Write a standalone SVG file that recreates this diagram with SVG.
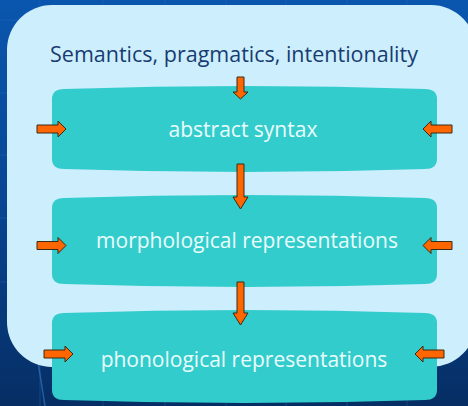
<svg xmlns="http://www.w3.org/2000/svg" width="468" height="406" viewBox="0 0 468 406">
  <defs>
    <linearGradient id="bg" x1="0" y1="0" x2="0" y2="1">
      <stop offset="0" stop-color="#0a56ae"/>
      <stop offset="0.5" stop-color="#084592"/>
      <stop offset="1" stop-color="#062e64"/>
    </linearGradient>
    <path id="arrR" d="M-29,-4 L-8,-4 L-8,-8 L0,0 L-8,8 L-8,4 L-29,4 Z"/>
    <path id="arrL" d="M29,-4 L8,-4 L8,-8 L0,0 L8,8 L8,4 L29,4 Z"/>
  </defs>
  <style>
    .grid { stroke: #2a70c4; stroke-width: 1; opacity: 0.35; }
    .panel { fill: #cdeefd; }
    .box { fill: #33cccc; }
    .title { font-family: "Open Sans", "Liberation Sans", sans-serif; font-size: 21.5px; fill: #173c70; text-anchor: middle; }
    .label { font-family: "Open Sans", "Liberation Sans", sans-serif; font-size: 21px; fill: #eafcfc; text-anchor: middle; }
    .arrow { fill: #ff6600; stroke: #3a2a1a; stroke-width: 1; stroke-linejoin: miter; }
  </style>

  <rect x="0" y="0" width="468" height="406" fill="url(#bg)"/>
  <g id="grid">
    <line class="grid" x1="40" y1="0" x2="40" y2="406"/>
    <line class="grid" x1="103" y1="0" x2="103" y2="406"/>
    <line class="grid" x1="165" y1="0" x2="165" y2="406"/>
    <line class="grid" x1="226" y1="0" x2="226" y2="406"/>
    <line class="grid" x1="286" y1="0" x2="286" y2="406"/>
    <line class="grid" x1="347" y1="0" x2="347" y2="406"/>
    <line class="grid" x1="407" y1="0" x2="407" y2="406"/>
    <line class="grid" x1="0" y1="20" x2="468" y2="20"/>
    <line class="grid" x1="0" y1="93" x2="468" y2="93"/>
    <line class="grid" x1="0" y1="155" x2="468" y2="155"/>
    <line class="grid" x1="0" y1="218" x2="468" y2="218"/>
    <line class="grid" x1="0" y1="282" x2="468" y2="282"/>
    <line x1="38" y1="362" x2="45" y2="406" stroke="#3a7ccc" stroke-width="1.5" opacity="0.6"/>
  </g>

  <g id="panel">
    <rect class="panel" x="7" y="5" width="469" height="362" rx="45" ry="45"/>
    <text class="title" x="234" y="62">Semantics, pragmatics, intentionality</text>
  </g>

  <g id="node-abstract-syntax">
    <path class="box" d="M52,99 Q52,89 64,89 Q245,83 425,89 Q437,89 437,99 L437,159 Q437,169 425,169 Q245,175 64,169 Q52,169 52,159 Z"/>
    <text class="label" x="243" y="137">abstract syntax</text>
  </g>

  <g id="node-morphological">
    <path class="box" d="M52,208 Q52,198 64,198 Q245,192 425,198 Q437,198 437,208 L437,274 Q437,284 425,284 Q245,290 64,284 Q52,284 52,274 Z"/>
    <text class="label" x="247" y="248">morphological representations</text>
  </g>

  <g id="node-phonological">
    <path class="box" d="M52,323 Q52,313 64,313 Q245,307 425,313 Q437,313 437,323 L437,390 Q437,400 425,400 Q245,406 64,400 Q52,400 52,390 Z"/>
    <text class="label" x="244" y="367">phonological representations</text>
  </g>

  <g id="connectors">
    <path class="arrow" d="M237,77 L244,77 L244,92 L248,92 L240.5,99 L233,92 L237,92 Z"/>
    <path class="arrow" d="M237,164 L244,164 L244,197 L248,197 L240.5,209 L233,197 L237,197 Z"/>
    <path class="arrow" d="M237,282 L244,282 L244,313 L248,313 L240.5,325 L233,313 L237,313 Z"/>
    <use href="#arrR" class="arrow" transform="translate(66,129)"/>
    <use href="#arrL" class="arrow" transform="translate(423,129)"/>
    <use href="#arrR" class="arrow" transform="translate(66,245.5)"/>
    <use href="#arrL" class="arrow" transform="translate(423,245.5)"/>
    <use href="#arrR" class="arrow" transform="translate(73,354)"/>
    <use href="#arrL" class="arrow" transform="translate(415,354)"/>
  </g>
</svg>
